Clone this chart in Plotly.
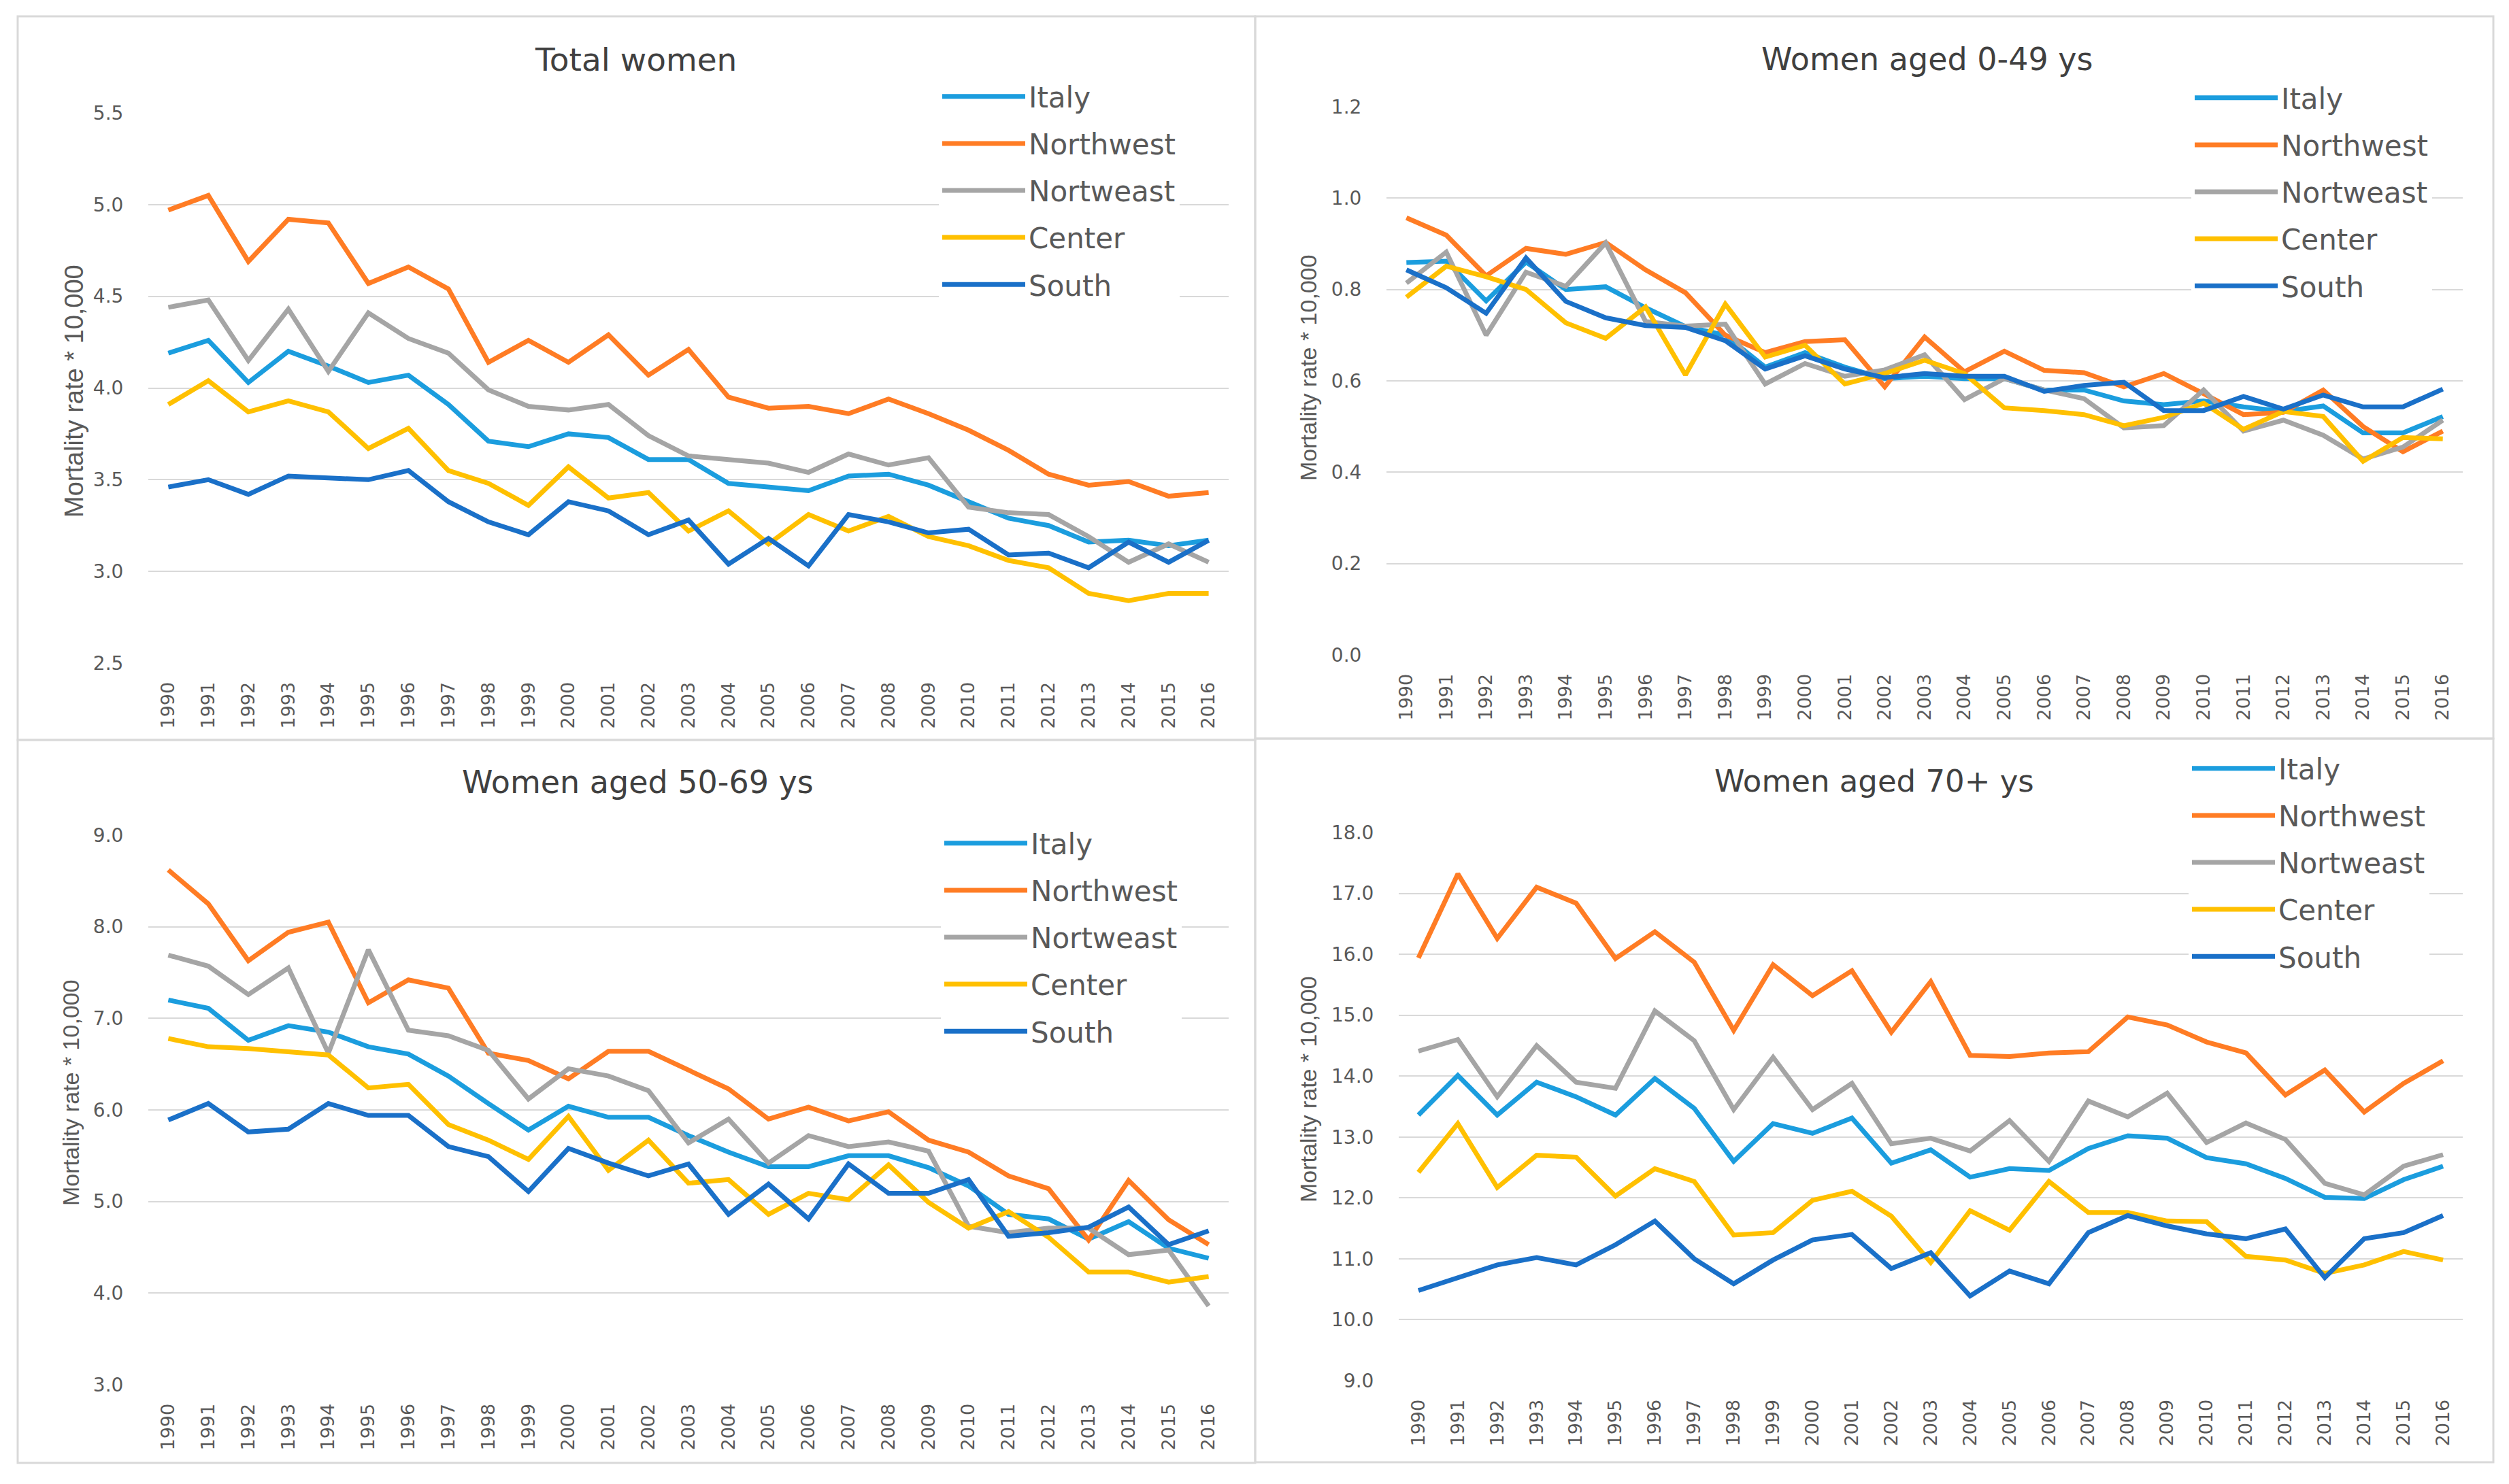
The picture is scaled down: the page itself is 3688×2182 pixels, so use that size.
import plotly.graph_objects as go

# ---------------- data ----------------
years = list(range(1990, 2017))
series_names = ["Italy", "Northwest", "Nortweast", "Center", "South"]
series_colors = ["#1B9DDE", "#FF7C24", "#A5A5A5", "#FFC000", "#1A70C8"]

panel_titles = ["Total women", "Women aged 0-49 ys", "Women aged 50-69 ys", "Women aged 70+ ys"]
y_axis_title = "Mortality rate * 10,000"

total_italy = [4.19, 4.26, 4.03, 4.20, 4.12, 4.03, 4.07, 3.91, 3.71, 3.68, 3.75, 3.73, 3.61, 3.61, 3.48, 3.46, 3.44, 3.52, 3.53, 3.47, 3.38, 3.29, 3.25, 3.16, 3.17, 3.14, 3.17]
total_northwest = [4.97, 5.05, 4.69, 4.92, 4.90, 4.57, 4.66, 4.54, 4.14, 4.26, 4.14, 4.29, 4.07, 4.21, 3.95, 3.89, 3.90, 3.86, 3.94, 3.86, 3.77, 3.66, 3.53, 3.47, 3.49, 3.41, 3.43]
total_nortweast = [4.44, 4.48, 4.15, 4.43, 4.09, 4.41, 4.27, 4.19, 3.99, 3.90, 3.88, 3.91, 3.74, 3.63, 3.61, 3.59, 3.54, 3.64, 3.58, 3.62, 3.35, 3.32, 3.31, 3.19, 3.05, 3.15, 3.05]
total_center = [3.91, 4.04, 3.87, 3.93, 3.87, 3.67, 3.78, 3.55, 3.48, 3.36, 3.57, 3.40, 3.43, 3.22, 3.33, 3.15, 3.31, 3.22, 3.30, 3.19, 3.14, 3.06, 3.02, 2.88, 2.84, 2.88, 2.88]
total_south = [3.46, 3.50, 3.42, 3.52, 3.51, 3.50, 3.55, 3.38, 3.27, 3.20, 3.38, 3.33, 3.20, 3.28, 3.04, 3.18, 3.03, 3.31, 3.27, 3.21, 3.23, 3.09, 3.10, 3.02, 3.16, 3.05, 3.17]

young_italy = [0.859, 0.862, 0.775, 0.860, 0.800, 0.806, 0.760, 0.719, 0.700, 0.630, 0.662, 0.630, 0.605, 0.610, 0.605, 0.605, 0.580, 0.580, 0.556, 0.548, 0.556, 0.543, 0.533, 0.545, 0.486, 0.486, 0.522]
young_northwest = [0.957, 0.919, 0.830, 0.890, 0.877, 0.903, 0.843, 0.793, 0.700, 0.662, 0.686, 0.690, 0.587, 0.696, 0.620, 0.665, 0.623, 0.618, 0.587, 0.616, 0.572, 0.526, 0.531, 0.580, 0.500, 0.445, 0.490]
young_nortweast = [0.814, 0.882, 0.700, 0.838, 0.807, 0.902, 0.730, 0.720, 0.724, 0.593, 0.638, 0.610, 0.624, 0.657, 0.559, 0.605, 0.580, 0.561, 0.497, 0.502, 0.580, 0.490, 0.514, 0.481, 0.429, 0.455, 0.514]
young_center = [0.783, 0.851, 0.828, 0.800, 0.727, 0.693, 0.762, 0.613, 0.768, 0.652, 0.678, 0.593, 0.616, 0.645, 0.616, 0.541, 0.535, 0.526, 0.502, 0.520, 0.551, 0.494, 0.533, 0.522, 0.424, 0.476, 0.473]
young_south = [0.843, 0.804, 0.748, 0.869, 0.774, 0.738, 0.721, 0.717, 0.688, 0.626, 0.655, 0.626, 0.607, 0.616, 0.610, 0.610, 0.577, 0.590, 0.597, 0.535, 0.535, 0.566, 0.538, 0.569, 0.543, 0.543, 0.582]

mid_italy = [7.20, 7.11, 6.76, 6.92, 6.85, 6.69, 6.61, 6.37, 6.07, 5.78, 6.04, 5.92, 5.92, 5.72, 5.54, 5.38, 5.38, 5.50, 5.50, 5.37, 5.17, 4.86, 4.81, 4.59, 4.78, 4.49, 4.38]
mid_northwest = [8.62, 8.25, 7.63, 7.94, 8.05, 7.17, 7.42, 7.33, 6.62, 6.54, 6.34, 6.64, 6.64, 6.43, 6.23, 5.90, 6.03, 5.88, 5.98, 5.67, 5.54, 5.28, 5.14, 4.58, 5.23, 4.80, 4.53]
mid_nortweast = [7.69, 7.57, 7.26, 7.55, 6.62, 7.75, 6.87, 6.81, 6.65, 6.12, 6.45, 6.37, 6.21, 5.64, 5.90, 5.42, 5.72, 5.60, 5.65, 5.55, 4.73, 4.66, 4.71, 4.71, 4.42, 4.47, 3.86]
mid_center = [6.78, 6.69, 6.67, 6.63, 6.60, 6.24, 6.28, 5.84, 5.67, 5.46, 5.93, 5.34, 5.67, 5.20, 5.24, 4.86, 5.09, 5.02, 5.40, 4.99, 4.71, 4.89, 4.61, 4.23, 4.23, 4.12, 4.18]
mid_south = [5.89, 6.07, 5.76, 5.79, 6.07, 5.94, 5.94, 5.60, 5.49, 5.11, 5.58, 5.42, 5.28, 5.41, 4.86, 5.19, 4.81, 5.41, 5.09, 5.09, 5.24, 4.62, 4.66, 4.72, 4.94, 4.53, 4.68]

old_italy = [13.36, 14.01, 13.36, 13.90, 13.66, 13.36, 13.96, 13.47, 12.60, 13.22, 13.06, 13.31, 12.57, 12.79, 12.34, 12.48, 12.45, 12.81, 13.02, 12.98, 12.66, 12.56, 12.32, 12.01, 11.99, 12.30, 12.52]
old_northwest = [15.94, 17.32, 16.26, 17.10, 16.84, 15.93, 16.37, 15.87, 14.75, 15.83, 15.32, 15.73, 14.72, 15.55, 14.34, 14.32, 14.38, 14.40, 14.97, 14.84, 14.56, 14.38, 13.69, 14.10, 13.41, 13.88, 14.25]
old_nortweast = [14.41, 14.60, 13.66, 14.50, 13.90, 13.80, 15.07, 14.58, 13.45, 14.31, 13.45, 13.88, 12.89, 12.98, 12.77, 13.27, 12.60, 13.59, 13.33, 13.72, 12.91, 13.23, 12.96, 12.24, 12.05, 12.52, 12.71]
old_center = [12.42, 13.22, 12.17, 12.70, 12.67, 12.03, 12.48, 12.27, 11.39, 11.43, 11.96, 12.11, 11.70, 10.94, 11.79, 11.47, 12.27, 11.76, 11.76, 11.62, 11.61, 11.04, 10.98, 10.76, 10.90, 11.12, 10.98]
old_south = [10.48, 10.69, 10.90, 11.02, 10.90, 11.23, 11.62, 11.00, 10.59, 10.98, 11.31, 11.40, 10.84, 11.10, 10.39, 10.80, 10.59, 11.43, 11.71, 11.54, 11.41, 11.33, 11.49, 10.69, 11.33, 11.43, 11.71]

y_ranges = [[2.5, 5.5], [0.0, 1.2], [3.0, 9.0], [9.0, 18.0]]
y_dticks = [0.5, 0.2, 1.0, 1.0]

panel_data = [
    [total_italy, total_northwest, total_nortweast, total_center, total_south],
    [young_italy, young_northwest, young_nortweast, young_center, young_south],
    [mid_italy, mid_northwest, mid_nortweast, mid_center, mid_south],
    [old_italy, old_northwest, old_nortweast, old_center, old_south],
]

# ---------------- layout geometry (pixels) ----------------
W, H = 3688, 2182
PAGE_OFFSET = 8  # default page margin of the html body

def px(x):
    return (x - PAGE_OFFSET) / W

def py(y):
    return 1 - (y - PAGE_OFFSET) / H

# plot areas: (left, right, top, bottom) in px
plot_boxes = [
    (218, 1806, 166, 975),
    (2038, 3620, 157, 963),
    (218, 1806, 1228, 2036),
    (2056, 3620, 1224, 2030),
]
# panel borders (left, top, right, bottom)
panel_borders = [
    (26, 24, 1845, 1088),
    (1845, 24, 3665, 1086),
    (26, 1088, 1845, 2151),
    (1845, 1086, 3665, 2150),
]
title_pos = [(935, 88, 47), (2833, 87, 46), (937, 1150, 46), (2755, 1148, 45)]
# y-axis title centre (x, y) and font size
ytitle_pos = [(109, 575, 38), (1923, 541, 34), (104, 1607, 34), (1923, 1602, 34)]
legend_pos = [(1380, 108), (3221, 110), (1383, 1206), (3217, 1096)]

GRID = "#D9D9D9"
TEXT = "#595959"

fig = go.Figure()
legend_keys = ["legend", "legend2", "legend3", "legend4"]

for p in range(4):
    ax_suffix = "" if p == 0 else str(p + 1)
    for s, name in enumerate(series_names):
        fig.add_trace(go.Scatter(
            x=years,
            y=panel_data[p][s],
            name=name,
            mode="lines",
            line=dict(color=series_colors[s], width=7),
            xaxis="x" + ax_suffix,
            yaxis="y" + ax_suffix,
            legend=legend_keys[p],
            legendgroup=f"p{p}_{name}",
            hovertemplate="%{x}: %{y}<extra>" + name + "</extra>",
        ))

layout = dict(
    width=W, height=H,
    margin=dict(l=0, r=0, t=0, b=0, pad=0, autoexpand=False),
    paper_bgcolor="white",
    plot_bgcolor="white",
    showlegend=True,
)

for p in range(4):
    l, r, t, b = plot_boxes[p]
    ax_suffix = "" if p == 0 else str(p + 1)
    layout["xaxis" + ax_suffix] = dict(
        domain=[px(l), px(r)],
        anchor="y" + ax_suffix,
        range=[1989.5, 2016.5],
        tickmode="array",
        tickvals=years,
        ticktext=[str(yv) for yv in years],
        tickangle=-90,
        showgrid=False,
        zeroline=False,
        showline=False,
        automargin=False,
        ticks="outside",
        ticklen=16,
        tickcolor="rgba(0,0,0,0)",
        tickfont=dict(family="DejaVu Sans", size=27, color=TEXT),
        fixedrange=True,
    )
    lo, hi = y_ranges[p]
    layout["yaxis" + ax_suffix] = dict(
        domain=[py(b), py(t)],
        anchor="x" + ax_suffix,
        range=[lo - 1e-6, hi + 1e-6],
        tick0=lo,
        dtick=y_dticks[p],
        tickformat=".1f",
        showgrid=True,
        gridcolor=GRID,
        gridwidth=2,
        zeroline=False,
        showline=False,
        automargin=False,
        ticks="outside",
        ticklen=30,
        tickcolor="rgba(0,0,0,0)",
        tickfont=dict(family="DejaVu Sans", size=28, color=TEXT),
        fixedrange=True,
    )
    lx, ly = legend_pos[p]
    layout[legend_keys[p]] = dict(
        x=px(lx), y=py(ly),
        xanchor="left", yanchor="top",
        xref="paper", yref="paper",
        bgcolor="white",
        borderwidth=0,
        font=dict(family="DejaVu Sans", size=42, color=TEXT),
        itemwidth=122,
        tracegroupgap=11.5,
        traceorder="grouped",
    )

shapes = []
for (l, t, r, b) in panel_borders:
    shapes.append(dict(
        type="rect", xref="paper", yref="paper",
        x0=px(l), x1=px(r), y0=py(b), y1=py(t),
        line=dict(color=GRID, width=3),
        fillcolor="rgba(0,0,0,0)",
        layer="below",
    ))
layout["shapes"] = shapes

annotations = []
for p in range(4):
    tx, ty, ts = title_pos[p]
    annotations.append(dict(
        text=panel_titles[p], x=px(tx), y=py(ty),
        xref="paper", yref="paper", xanchor="center", yanchor="middle",
        showarrow=False,
        font=dict(family="DejaVu Sans", size=ts, color="#404040"),
    ))
    yx, yy, ys = ytitle_pos[p]
    annotations.append(dict(
        text=y_axis_title, x=px(yx), y=py(yy),
        xref="paper", yref="paper", xanchor="center", yanchor="middle",
        textangle=-90, showarrow=False,
        font=dict(family="Liberation Sans", size=ys, color=TEXT),
    ))
layout["annotations"] = annotations

fig.update_layout(**layout)
fig.write_html("out.html")
